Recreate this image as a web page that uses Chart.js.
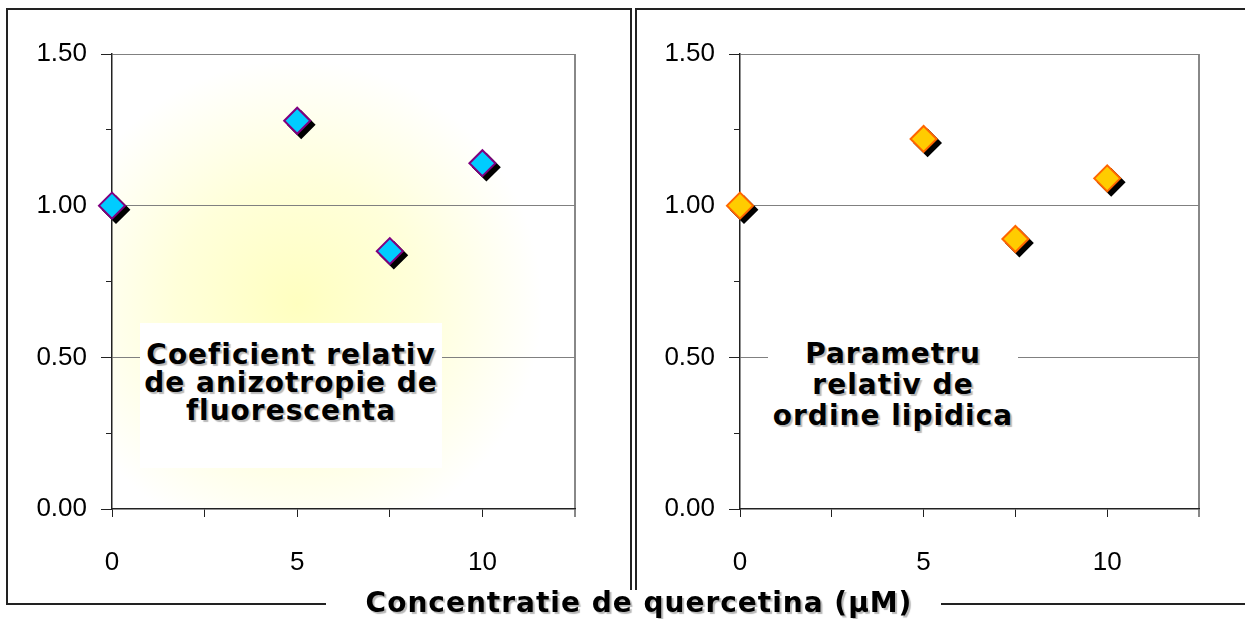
<!DOCTYPE html>
<html><head><meta charset="utf-8">
<script src="https://cdn.jsdelivr.net/npm/chart.js@4.4.1/dist/chart.umd.min.js"></script>
<style>
html,body{margin:0;padding:0;background:#fff;width:1245px;height:619px;overflow:hidden;position:relative;}
.ln{position:absolute;background:#222;}
canvas{position:absolute;top:0;}
#c1{left:0;}
#c2{left:631px;}
.note{position:absolute;font-family:'DejaVu Sans',sans-serif;font-weight:bold;font-size:28px;letter-spacing:1px;color:#000;text-align:center;text-shadow:2px 2px 1px rgba(0,0,0,0.28);white-space:nowrap;box-sizing:border-box;}
</style></head><body>
<div class="ln" style="left:6px;top:8px;width:2px;height:597px"></div>
<div class="ln" style="left:6px;top:8px;width:625px;height:2px"></div>
<div class="ln" style="left:635px;top:8px;width:610px;height:2px"></div>
<div class="ln" style="left:630px;top:8px;width:2px;height:582px"></div>
<div class="ln" style="left:635px;top:8px;width:2px;height:582px"></div>
<div class="ln" style="left:6px;top:603px;width:320px;height:2px"></div>
<div class="ln" style="left:941px;top:603px;width:304px;height:2px"></div>
<canvas id="c1" width="631" height="619"></canvas>
<canvas id="c2" width="614" height="619"></canvas>
<div id="n1" class="note" style="left:140px;top:323px;width:302px;height:145px;background:#fff;padding-top:18px;line-height:28px;"></div>
<div id="n2" class="note" style="left:768px;top:330px;width:250px;height:110px;background:#fff;padding-top:8px;line-height:31px;"></div>
<div id="ttl" class="note" style="left:339px;top:588px;width:600px;line-height:30px;"></div>
<script>
// ---- data ----
const concentrations = [0, 5, 7.5, 10];
const anisotropyValues = [1.00, 1.28, 0.85, 1.14];
const lipidOrderValues = [1.00, 1.22, 0.89, 1.09];
const yTickLabels = ['0.00', '0.50', '1.00', '1.50'];
const xTickLabels = ['0', '5', '10'];
const panel1Text = ['Coeficient relativ', 'de anizotropie de', 'fluorescenta'];
const panel2Text = ['Parametru', 'relativ de', 'ordine lipidica'];
const axisTitle = 'Concentratie de quercetina (\u03BCM)';

document.getElementById('n1').innerHTML = panel1Text.join('<br>');
document.getElementById('n2').innerHTML = panel2Text.join('<br>');
document.getElementById('ttl').textContent = axisTitle;

const shadowPlugin = {
  id: 'markerShadow',
  beforeDatasetDraw(chart, args) {
    if (args.index === 1) { chart.ctx.save(); chart.ctx.translate(4, 4); }
  },
  afterDatasetDraw(chart, args) {
    if (args.index === 1) { chart.ctx.restore(); }
  }
};

function bgPlugin(gradient) {
  return {
    id: 'plotBg',
    beforeDraw(chart) {
      const a = chart.chartArea, ctx = chart.ctx;
      ctx.save();
      if (gradient) {
        const cx = a.left + (a.right - a.left) * 0.40, cy = a.top + (a.bottom - a.top) * 0.55;
        const g = ctx.createRadialGradient(cx, cy, 0, cx, cy, 245);
        g.addColorStop(0, '#FFFFC0');
        g.addColorStop(0.5, '#FFFFDA');
        g.addColorStop(1, '#FFFFFF');
        ctx.fillStyle = g;
      } else {
        ctx.fillStyle = '#FFFFFF';
      }
      ctx.fillRect(a.left, a.top, a.right - a.left, a.bottom - a.top);
      ctx.restore();
    }
  };
}

function makeChart(id, vals, fill, border, yWidth, padRight, gradient) {
  const pts = concentrations.map((x, i) => ({ x: x, y: vals[i] }));
  return new Chart(document.getElementById(id), {
    type: 'scatter',
    data: {
      datasets: [
        { data: pts, pointStyle: 'rectRot', pointRadius: 13, pointHoverRadius: 13, clip: false,
          pointBackgroundColor: fill, pointBorderColor: border, pointBorderWidth: 2, showLine: false },
        { data: pts, pointStyle: 'rectRot', pointRadius: 13, pointHoverRadius: 13, clip: false,
          pointBackgroundColor: '#000', pointBorderColor: '#000', pointBorderWidth: 2, showLine: false }
      ]
    },
    options: {
      responsive: false, animation: false, events: [],
      layout: { padding: { left: 0, top: 54, right: padRight, bottom: 30 } },
      plugins: { legend: { display: false }, tooltip: { enabled: false } },
      scales: {
        x: {
          type: 'linear', min: 0, max: 12.5,
          afterFit: s => { s.height = 80; },
          border: { display: true, color: '#222', width: 1.5 },
          grid: {
            drawOnChartArea: true, tickLength: 8,
            color: c => (c.tick && Math.abs(c.tick.value - 12.5) < 1e-6) ? '#888' : 'rgba(0,0,0,0)',
            lineWidth: c => (c.tick && Math.abs(c.tick.value - 12.5) < 1e-6) ? 2 : 1,
            tickColor: c => (c.tick && Math.abs(c.tick.value - 12.5) < 1e-6) ? '#888' : '#222',
            tickWidth: c => (c.tick && Math.abs(c.tick.value - 12.5) < 1e-6) ? 2 : 1
          },
          ticks: {
            stepSize: 2.5, autoSkip: false, maxRotation: 0, padding: 30,
            color: '#000', font: { family: 'Liberation Sans', size: 26 },
            callback: v => { const s = String(v); return xTickLabels.includes(s) ? s : ''; }
          }
        },
        y: {
          type: 'linear', min: 0, max: 1.5,
          afterFit: s => { s.width = yWidth; },
          border: { display: true, color: '#222', width: 1.5 },
          grid: {
            tickLength: 11,
            color: c => { if (!c.tick) return 'rgba(0,0,0,0)'; const s = c.tick.value.toFixed(2); return (s !== '0.00' && yTickLabels.includes(s)) ? '#808080' : 'rgba(0,0,0,0)'; },
            tickColor: '#222',
            tickBorderDash: c => { if (!c.tick) return []; const s = c.tick.value.toFixed(2); return yTickLabels.includes(s) ? [] : [0, 5, 30, 0]; }
          },
          ticks: {
            stepSize: 0.25, autoSkip: false, padding: 14,
            color: '#000', font: { family: 'Liberation Sans', size: 26 },
            callback: v => { const s = Number(v).toFixed(2); return yTickLabels.includes(s) ? s : ''; }
          }
        }
      }
    },
    plugins: [bgPlugin(gradient), shadowPlugin]
  });
}

makeChart('c1', anisotropyValues, '#00CCFF', '#800080', 112, 56, true);
makeChart('c2', lipidOrderValues, '#FFCC00', '#FF6600', 109, 46, false);
</script>
</body></html>
